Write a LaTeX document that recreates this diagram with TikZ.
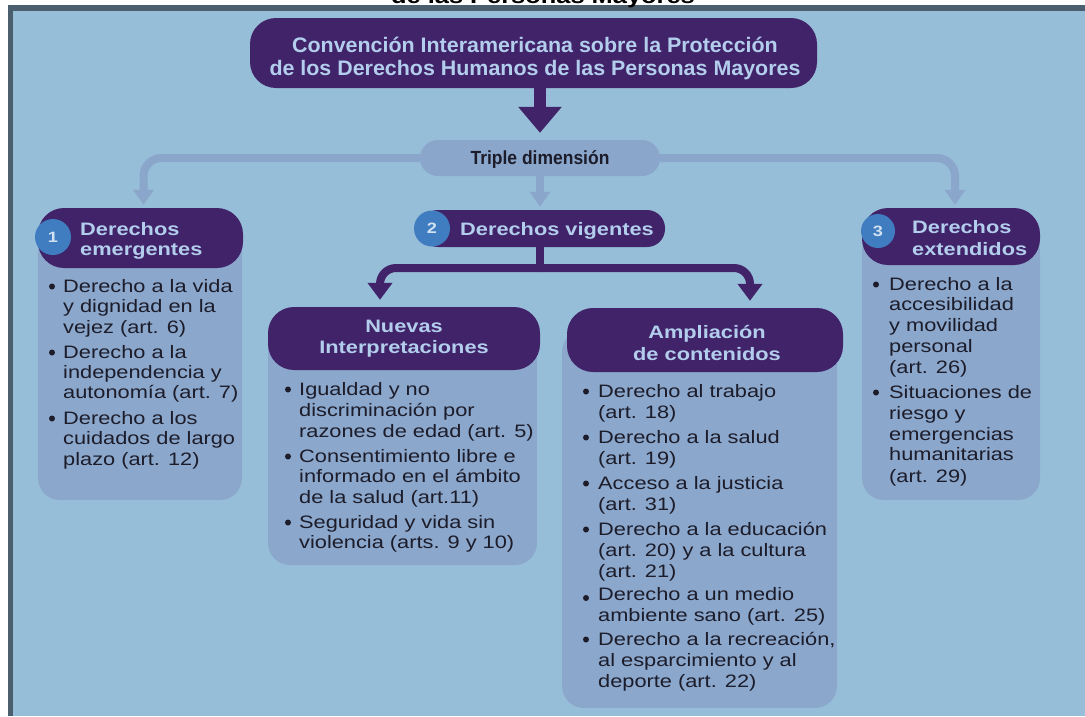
\documentclass[tikz,border=0pt]{standalone}
\usepackage{fontspec}
\setmainfont{Liberation Sans}
\newfontfamily\bodyf[FakeStretch=1.21]{Liberation Sans}
\newfontfamily\titlef[FakeStretch=1.02]{Liberation Sans}
\newfontfamily\tripf[FakeStretch=0.92]{Liberation Sans}
\usetikzlibrary{arrows.meta}
\definecolor{bgc}{HTML}{97BED8}
\definecolor{framec}{HTML}{4B5E6E}
\definecolor{purp}{HTML}{41236A}
\definecolor{bodyc}{HTML}{8BA7CB}
\definecolor{linec}{HTML}{8AA6CB}
\definecolor{headc}{HTML}{B3CEEC}
\definecolor{circc}{HTML}{3F7DC0}
\definecolor{numc}{HTML}{D2E2F2}
\definecolor{txtc}{HTML}{1C1C2A}
\tikzset{
  hdr/.style={fill=purp, rounded corners=26pt, inner sep=0pt},
  bodybox/.style={fill=bodyc, rounded corners=22pt, inner sep=0pt},
  btxt/.style={anchor=base west, inner sep=0pt, text=txtc, font=\bodyf\fontsize{18}{20}\selectfont},
  htxt/.style={inner sep=0pt, text=headc, font=\bodyf\bfseries\fontsize{18}{20}\selectfont},
  numcirc/.style={circle, fill=circc, inner sep=0pt, minimum size=36pt, text=numc, font=\bodyf\bfseries\fontsize{15}{15}\selectfont},
  lightarrow/.style={draw=linec, line width=8pt, rounded corners=18pt, -{Triangle[width=20pt,length=15pt]}, shorten >=3pt},
  purparrow/.style={draw=purp, line width=8pt, rounded corners=16pt, -{Triangle[width=24pt,length=17pt]}, shorten >=7pt},
  bul/.style={fill=txtc}
}
\begin{document}
\begin{tikzpicture}[x=1pt,y=-1pt]
\useasboundingbox (0,0) rectangle (1085,716);
% frame and background
\fill[white] (0,0) rectangle (1085,716);
\fill[framec] (8,5) rectangle (1085,716);
\fill[bgc] (12.5,11) rectangle (1085,716);
\node[anchor=base, inner sep=0pt, text=black, font=\bodyf\bfseries\fontsize{21}{21}\selectfont] (toptitle) at (543,3.5) {de las Personas Mayores};

% title
\node[hdr, rounded corners=26pt, minimum width=567pt, minimum height=70pt] (title) at (533.5,53) {};
\node[anchor=base, inner sep=0pt, text=headc, font=\titlef\bfseries\fontsize{21}{23}\selectfont] (tl1) at (535,52) {Convención Interamericana sobre la Protección};
\node[anchor=base, inner sep=0pt, text=headc, font=\titlef\bfseries\fontsize{21}{23}\selectfont] (tl2) at (535,75) {de los Derechos Humanos de las Personas Mayores};

% bodies
\node[bodybox, minimum width=204pt, minimum height=270pt] (b1) at (140,365) {};
\node[bodybox, minimum width=269pt, minimum height=235pt] (b2) at (402.5,447.5) {};
\node[bodybox, minimum width=275pt, minimum height=378pt] (b3) at (699.5,519) {};
\node[bodybox, minimum width=178pt, minimum height=270pt] (b4) at (951,365) {};

% headers
\node[hdr, minimum width=205pt, minimum height=60pt] (h1) at (140.5,238) {};
\node[hdr, rounded corners=18pt, minimum width=245pt, minimum height=37pt] (h2) at (542.5,228.5) {};
\node[hdr, minimum width=178pt, minimum height=57pt] (h3) at (951,236.5) {};
\node[hdr, minimum width=272pt, minimum height=63pt] (nh) at (404,338.5) {};
\node[hdr, minimum width=276pt, minimum height=64pt] (am) at (705,340) {};

% triple dimension pill
\node[fill=linec, rounded corners=18pt, minimum width=240pt, minimum height=36pt, inner sep=0pt] (triple) at (540,158) {};
\node[anchor=base, inner sep=0pt, text=txtc, font=\tripf\bfseries\fontsize{19}{19}\selectfont] (tript) at (540,164.5) {Triple dimensión};

% connectors
\draw[lightarrow] (triple.west) -| ([xshift=3pt]h1.north);
\draw[lightarrow] (triple.east) -| ([xshift=4pt]h3.north);
\draw[lightarrow] (triple.south) -- (triple.south |- h2.north);

\draw[draw=purp, line width=12pt, -{Triangle[width=42pt,length=26pt]}, shorten >=7pt] (triple.north |- title.south) -- (triple.north);

\coordinate (split) at (540,268);
\draw[draw=purp, line width=8pt] (split |- h2.south) -- (split);
\draw[purparrow] (split) -| ([xshift=-24pt]nh.north);
\draw[purparrow] (split) -| ([xshift=45pt]am.north);

% circles
\node[numcirc] (c1) at (53,237) {1};
\node[numcirc] (c2) at (432,228.5) {2};
\node[numcirc, minimum size=34pt] (c3) at (878,231) {3};

% header texts
\node[htxt, anchor=base west] (h1a) at (80,235) {Derechos};
\node[htxt, anchor=base west] (h1b) at (80,255) {emergentes};
\node[htxt, anchor=base west] (h2a) at (460,235) {Derechos vigentes};
\node[htxt, anchor=base west] (h3a) at (912,233) {Derechos};
\node[htxt, anchor=base west] (h3b) at (912,255) {extendidos};
\node[htxt, anchor=base] (nha) at (404,332) {Nuevas};
\node[htxt, anchor=base] (nhb) at (404,353) {Interpretaciones};
\node[htxt, anchor=base] (ama) at (707,338) {Ampliación};
\node[htxt, anchor=base] (amb) at (707,360) {de contenidos};

% body texts
\foreach \yy/\txt [count=\i] in {292/Derecho a la vida, 312.5/y dignidad en la, 333/vejez (art. 6), 358/Derecho a la, 378/independencia y, 398.5/autonomía (art. 7), 424/Derecho a los, 444.5/cuidados de largo, 465/plazo (art. 12)}
  {\node[btxt] (ea\i) at (63,\yy) {\txt};}
\foreach \yy in {292,358,424} {\fill[bul] (52,\yy-5.5) circle (3pt);}

\foreach \yy/\txt [count=\i] in {395/Igualdad y no, 416/discriminación por, 437/razones de edad (art. 5), 462/Consentimiento libre e, 482.5/informado en el ámbito, 503/de la salud (art.11), 528/Seguridad y vida sin, 548.5/violencia (arts. 9 y 10)}
  {\node[btxt] (na\i) at (299,\yy) {\txt};}
\foreach \yy in {395,462,528} {\fill[bul] (288,\yy-5.5) circle (3pt);}

\foreach \yy/\txt [count=\i] in {397/Derecho al trabajo, 418/(art. 18), 443/Derecho a la salud, 464.5/(art. 19), 489/Acceso a la justicia, 510.5/(art. 31), 535/Derecho a la educación, 556/(art. 20) y a la cultura, 577/(art. 21), 600/Derecho a un medio, 621.5/ambiente sano (art. 25), 645/{Derecho a la recreación,}, 666/al esparcimiento y al, 687.5/deporte (art. 22)}
  {\node[btxt] (aa\i) at (598,\yy) {\txt};}
\foreach \yy in {397,443,489,535,645} {\fill[bul] (586,\yy-5.5) circle (3pt);}
\fill[bul] (586,600-2) circle (3pt);

\foreach \yy/\txt [count=\i] in {290/Derecho a la, 310.5/accesibilidad, 331.5/y movilidad, 352/personal, 373/(art. 26), 398/Situaciones de, 419/riesgo y, 440/emergencias, 460.5/humanitarias, 482/(art. 29)}
  {\node[btxt] (xa\i) at (889,\yy) {\txt};}
\foreach \yy in {290,398} {\fill[bul] (876,\yy-5.5) circle (3pt);}
\end{tikzpicture}
\end{document}
